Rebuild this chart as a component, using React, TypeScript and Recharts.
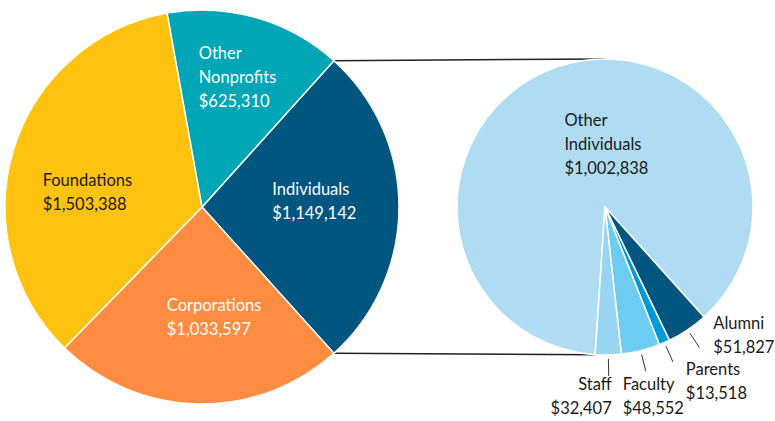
import React from 'react';
import { PieChart, Pie, Cell } from 'recharts';

// left pie: all funding sources
const sourceNames = ['Individuals', 'Corporations', 'Foundations', 'Other Nonprofits'];
const sourceValues = [1149142, 1033597, 1503388, 625310];
const sourceColors = ['#00567f', '#ff8c40', '#ffc20e', '#00a6b6'];

// right pie: breakdown of Individuals
const individualNames = ['Other Individuals', 'Alumni', 'Parents', 'Faculty', 'Staff'];
const individualValues = [1002838, 51827, 13518, 48552, 32407];
const individualColors = ['#afdcf3', '#00567f', '#0099d8', '#6dccf2', '#98d5f2'];

const W = 775;
const H = 421;
const FONT = 'Lato, "Open Sans", sans-serif';
const FONT_SIZE = 16.5;
const RAD = Math.PI / 180;

const L = { cx: 202, cy: 207, r: 197 };
const R = { cx: 605, cy: 207, r: 148 };

const sum = (a: number[]) => a.reduce((s, v) => s + v, 0);
const fmtMoney = (v: number) => '$' + v.toLocaleString('en-US');

// left pie: Individuals slice centred on 0deg, going clockwise
const leftSpan = (sourceValues[0] / sum(sourceValues)) * 360;
const leftStart = leftSpan / 2;
// right pie: small slices end just left of the bottom
const smallSpan = ((sum(individualValues) - individualValues[0]) / sum(individualValues)) * 360;
const rightEnd = -leftStart - smallSpan;
const rightStart = rightEnd + 360;

const leftData = sourceNames.map((name, i) => ({ name, value: sourceValues[i] }));
const rightData = individualNames.map((name, i) => ({ name, value: individualValues[i] }));

// label nudges (inner labels relative to 0.57*r on midAngle)
const innerNudge: Record<string, { dx: number; dy: number; fill: string }> = {
  'Other Nonprofits': { dx: -34, dy: -40, fill: '#ffffff' },
  Individuals: { dx: -42, dy: -12, fill: '#ffffff' },
  Corporations: { dx: -33, dy: -8, fill: '#ffffff' },
  Foundations: { dx: -52, dy: 12, fill: '#1a1a1a' },
  'Other Individuals': { dx: -13, dy: -1, fill: '#1a1a1a' },
};

// outer labels: relative to leader line end
const outerNudge: Record<string, { dx: number; dy: number; anchor: 'start' | 'end' }> = {
  Alumni: { dx: 14, dy: -18, anchor: 'start' },
  Parents: { dx: 13, dy: 13, anchor: 'start' },
  Faculty: { dx: -23, dy: 19, anchor: 'start' },
  Staff: { dx: 3, dy: 14, anchor: 'end' },
};

const LINE_H = 24;

function renderLabel(props: any) {
  const { cx, cy, midAngle, outerRadius, name, value } = props;
  const cos = Math.cos(-midAngle * RAD);
  const sin = Math.sin(-midAngle * RAD);
  const lines = [...name.split(' '), fmtMoney(value)];

  if (innerNudge[name]) {
    const n = innerNudge[name];
    const x = cx + outerRadius * 0.57 * cos + n.dx;
    const y = cy + outerRadius * 0.57 * sin + n.dy;
    return (
      <text x={x} y={y} fill={n.fill} fontFamily={FONT} fontSize={FONT_SIZE} textAnchor="start">
        {lines.map((t, i) => (
          <tspan key={i} x={x} y={y + i * LINE_H}>
            {t}
          </tspan>
        ))}
      </text>
    );
  }

  const n = outerNudge[name];
  const x1 = cx + (outerRadius + 4) * cos;
  const y1 = cy + (outerRadius + 4) * sin;
  const x2 = cx + (outerRadius + 21) * cos;
  const y2 = cy + (outerRadius + 21) * sin;
  const tx = x2 + n.dx;
  const ty = y2 + n.dy;
  return (
    <g>
      <line x1={x1} y1={y1} x2={x2} y2={y2} stroke="#333" strokeWidth={1} />
      <text x={tx} y={ty} fill="#1a1a1a" fontFamily={FONT} fontSize={FONT_SIZE} textAnchor={n.anchor}>
        {lines.map((t, i) => (
          <tspan key={i} x={tx} y={ty + i * LINE_H}>
            {t}
          </tspan>
        ))}
      </text>
    </g>
  );
}

function pt(c: { cx: number; cy: number; r: number }, angle: number) {
  return { x: c.cx + c.r * Math.cos(angle * RAD), y: c.cy - c.r * Math.sin(angle * RAD) };
}

export default function App() {
  const a1 = pt(L, leftStart);
  const a2 = pt(R, 90);
  const b1 = pt(L, -leftStart);
  const b2 = pt(R, rightEnd);

  return (
    <div style={{ position: 'absolute', left: 0, top: 0, width: W, height: H, background: '#fff' }}>
      <svg width={W} height={H} style={{ position: 'absolute', left: 0, top: 0 }}>
        <line x1={a1.x} y1={a1.y} x2={a2.x} y2={a2.y} stroke="#222" strokeWidth={1.5} />
        <line x1={b1.x} y1={b1.y} x2={b2.x} y2={b2.y} stroke="#222" strokeWidth={1.5} />
      </svg>
      <div style={{ position: 'absolute', left: 0, top: 0 }}>
        <PieChart width={W} height={H} margin={{ top: 0, right: 0, bottom: 0, left: 0 }}>
          <Pie
            data={leftData}
            dataKey="value"
            nameKey="name"
            cx={L.cx}
            cy={L.cy}
            outerRadius={L.r}
            startAngle={leftStart}
            endAngle={leftStart - 360}
            stroke="#ffffff"
            strokeWidth={1.5}
            label={renderLabel}
            labelLine={false}
            isAnimationActive={false}
          >
            {leftData.map((d, i) => (
              <Cell key={d.name} fill={sourceColors[i]} />
            ))}
          </Pie>
          <Pie
            data={rightData}
            dataKey="value"
            nameKey="name"
            cx={R.cx}
            cy={R.cy}
            outerRadius={R.r}
            startAngle={rightStart}
            endAngle={rightEnd}
            stroke="#ffffff"
            strokeWidth={1.5}
            label={renderLabel}
            labelLine={false}
            isAnimationActive={false}
          >
            {rightData.map((d, i) => (
              <Cell key={d.name} fill={individualColors[i]} />
            ))}
          </Pie>
        </PieChart>
      </div>
    </div>
  );
}
